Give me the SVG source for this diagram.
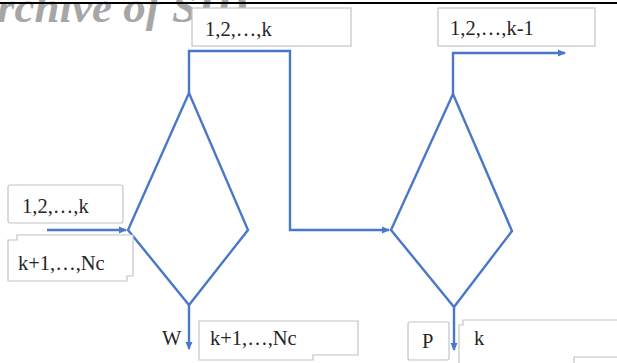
<svg xmlns="http://www.w3.org/2000/svg" width="617" height="363" viewBox="0 0 617 363">
<defs>
<style>
.box{fill:#fff;stroke:#c4c4c4;stroke-width:1.2}
.lbl{font-family:"Liberation Serif","Times New Roman",serif;font-size:20.5px;fill:#262626}
.ln{fill:none;stroke:#4a78c8;stroke-width:2.4}
.wm{font-family:"Liberation Serif","Times New Roman",serif;font-weight:bold;font-style:italic;font-size:45px;fill:#a6a6a6}
</style>
<marker id="ah" markerWidth="8" markerHeight="8" refX="7" refY="4" orient="auto" markerUnits="userSpaceOnUse">
<path d="M0,0.5 L8,4 L0,7.5 Z" fill="#4a78c8"/>
</marker>
</defs>
<rect width="617" height="363" fill="#fff"/>
<text class="wm" x="-3" y="22">rchive of SID</text>
<line x1="0" y1="3" x2="617" y2="3" stroke="#000" stroke-width="2"/>

<g id="connectors">
<polyline class="ln" points="189,93 189,51 290,51 290,230 389,230" marker-end="url(#ah)"/>
<polyline class="ln" points="453,94 453,53 565,53" marker-end="url(#ah)"/>
<line class="ln" x1="47" y1="230" x2="126" y2="230" marker-end="url(#ah)"/>
<line class="ln" x1="189" y1="305" x2="189" y2="349" marker-end="url(#ah)"/>
<line class="ln" x1="454" y1="307" x2="454" y2="350" marker-end="url(#ah)"/>
</g>

<g id="diamond1"><polygon class="ln" points="189,93 248,230 189,305 128,230"/></g>
<g id="diamond2"><polygon class="ln" points="453,94 512,231 454,307 391,230"/></g>

<g id="top-label-1">
<rect class="box" x="192" y="8" width="159" height="38"/>
<text class="lbl" x="205" y="36">1,2,…,k</text>
</g>
<g id="top-label-2">
<rect class="box" x="438" y="8" width="157" height="38"/>
<text class="lbl" x="450" y="35">1,2,…,k-1</text>
</g>
<g id="left-label-1">
<rect class="box" x="8" y="185" width="115" height="38" rx="2"/>
<text class="lbl" x="22" y="213">1,2,…,k</text>
</g>
<g id="left-label-2">
<path class="box" d="M17,235 H133 V276 H127 V281 H8 V240 H17 Z"/>
<text class="lbl" x="18" y="270">k+1,…,Nc</text>
</g>
<g id="w-label">
<text class="lbl" x="162" y="345">W</text>
</g>
<g id="bottom-label-1">
<path class="box" d="M199,321 H358 V355 H313 V360 H199 Z"/>
<text class="lbl" x="210" y="345">k+1,…,Nc</text>
</g>
<g id="p-label">
<rect class="box" x="408" y="322" width="41" height="38" rx="2"/>
<text class="lbl" x="422" y="348">P</text>
</g>
<g id="bottom-label-2">
<path class="box" d="M618,320 H463 V325 H459 V364"/>
<path class="box" d="M574,364 V357 H618"/>
<text class="lbl" x="474" y="345">k</text>
</g>
</svg>
